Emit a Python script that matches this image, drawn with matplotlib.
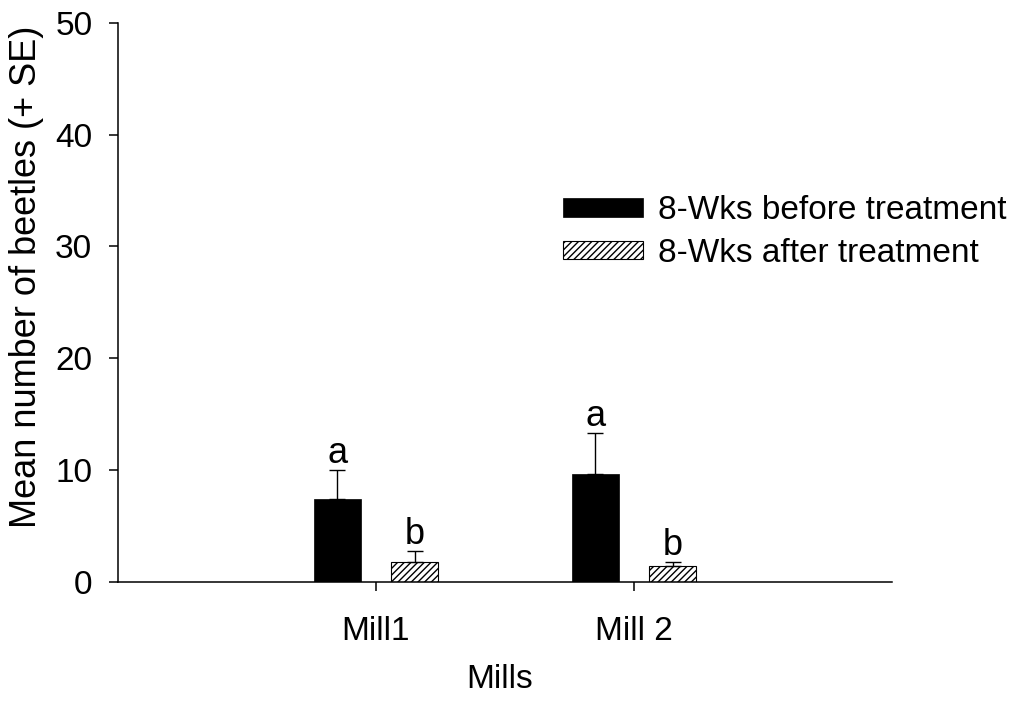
import numpy as np
import matplotlib
matplotlib.use("Agg")
import matplotlib.pyplot as plt

plt.rcParams['font.family'] = ['Liberation Sans', 'DejaVu Sans']
plt.rcParams['hatch.linewidth'] = 1.0

mills = ["Mill1", "Mill 2"]
before_mean = [7.4, 9.6]
before_se = [2.55, 3.65]
after_mean = [1.75, 1.4]
after_se = [1.0, 0.33]
before_letters = ["a", "a"]
after_letters = ["b", "b"]

fig = plt.figure(figsize=(10.21, 7.06), dpi=100)
ax = fig.add_axes([118/1021, 1-581.5/706, (892-118)/1021, (581.5-23)/706])

x = np.arange(len(mills))
w = 0.182
off = 0.15

ax.bar(x - off, before_mean, w, color="black", edgecolor="black", linewidth=0.5,
       label="8-Wks before treatment")
ax.bar(x + off, after_mean, w, color="white", edgecolor="black", linewidth=0.8,
       hatch="/////", label="8-Wks after treatment")
ax.errorbar(x - off, before_mean, yerr=[np.zeros(2), before_se], fmt="none",
            ecolor="black", elinewidth=1.0, capsize=6, capthick=1.0)
ax.errorbar(x + off, after_mean, yerr=[np.zeros(2), after_se], fmt="none",
            ecolor="black", elinewidth=1.0, capsize=6, capthick=1.0)

for xi, m, s, t in zip(x - off, before_mean, before_se, before_letters):
    ax.text(xi, m + s + 0.7, t, ha="center", va="baseline", fontsize=26)
for xi, m, s, t in zip(x + off, after_mean, after_se, after_letters):
    ax.text(xi, m + s + 0.6, t, ha="center", va="baseline", fontsize=26)

ax.set_xlim(-1, 2)
ax.set_ylim(0, 50)
ax.set_yticks([0, 10, 20, 30, 40, 50])
ax.set_xticks(x)
ax.set_xticklabels(mills)
ax.tick_params(axis="both", direction="out", length=6.5, width=1.1, labelsize=24)
ax.tick_params(axis="y", pad=12)
ax.tick_params(axis="x", pad=18)
ax.spines["top"].set_visible(False)
ax.spines["right"].set_visible(False)
ax.spines["left"].set_linewidth(1.1)
ax.spines["bottom"].set_linewidth(1.1)

ax.set_xlabel("Mills", fontsize=24)
ax.xaxis.set_label_coords(0.4935, -0.147)
ax.set_ylabel("Mean number of beetles (+ SE)", fontsize=26)
ax.yaxis.set_label_coords(-0.096, 0.545)

ax.legend(loc="center left", bbox_to_anchor=(563/1021, 1-232/706),
          bbox_transform=fig.transFigure, frameon=False, fontsize=24,
          borderpad=0, borderaxespad=0, handlelength=2.4, handleheight=0.48,
          labelspacing=0.35, handletextpad=0.45)

fig.savefig("out.png", dpi=100)
